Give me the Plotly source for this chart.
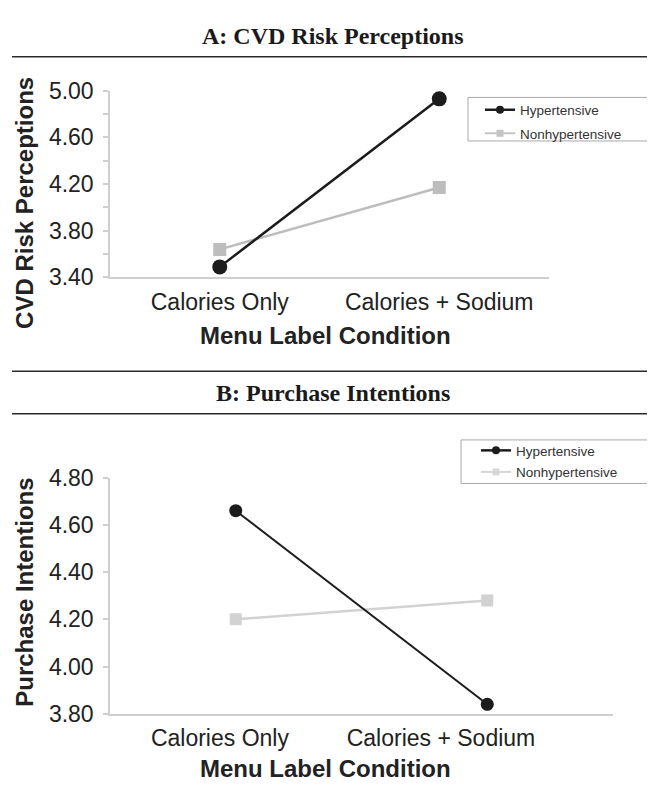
import plotly.graph_objects as go

# ---------------- data ----------------
categories = ["Calories Only", "Calories + Sodium"]
series_names = ["Hypertensive", "Nonhypertensive"]

risk_hyper = [3.49, 4.93]
risk_nonhyper = [3.64, 4.17]

purchase_hyper = [4.66, 3.84]
purchase_nonhyper = [4.20, 4.28]

risk_tick_vals = [3.40, 3.80, 4.20, 4.60, 5.00]
purchase_tick_vals = [3.80, 4.00, 4.20, 4.40, 4.60, 4.80]

# ---------------- layout helpers ----------------
W, H = 655, 808
OFF = 8  # default page margin around the plot div
FW, FH = W - OFF, H - OFF


def px(x):
    return (x - OFF) / FW


def py(y):
    return 1 - (y - OFF) / FH


SANS = "Liberation Sans, Arial, Helvetica, sans-serif"
SERIF = "Liberation Serif, Times New Roman, serif"
TXT = "#222222"
AXIS_GRAY = "#cfcfcf"
BLACK = "#1c1c1c"
GRAY_A = "#bdbdbd"
GRAY_B = "#d2d2d2"

# panel B's tick labels sit left of the points (stretched plot area in original)
b_idx = list(range(len(categories)))
b_label_shift = [-0.063, -0.184]
b_tickvals = [i + s for i, s in zip(b_idx, b_label_shift)]

fig = go.Figure()

# ---- Panel A data ----
fig.add_trace(go.Scatter(
    x=categories, y=risk_nonhyper, mode="lines+markers", name=series_names[1],
    line=dict(color=GRAY_A, width=2.5), marker=dict(symbol="square", size=13, color=GRAY_A),
    xaxis="x", yaxis="y", showlegend=False))
fig.add_trace(go.Scatter(
    x=categories, y=risk_hyper, mode="lines+markers", name=series_names[0],
    line=dict(color=BLACK, width=2.5), marker=dict(symbol="circle", size=15, color=BLACK),
    xaxis="x", yaxis="y", showlegend=False))

# ---- Panel B data ----
fig.add_trace(go.Scatter(
    x=b_idx, y=purchase_nonhyper, mode="lines+markers", name=series_names[1],
    line=dict(color=GRAY_B, width=2.5), marker=dict(symbol="square", size=12, color=GRAY_B),
    xaxis="x2", yaxis="y2", showlegend=False))
fig.add_trace(go.Scatter(
    x=b_idx, y=purchase_hyper, mode="lines+markers", name=series_names[0],
    line=dict(color=BLACK, width=2), marker=dict(symbol="circle", size=13, color=BLACK),
    xaxis="x2", yaxis="y2", showlegend=False))

# ---- legend entries (no data) ----
for leg, xa, ya, grp, gray in [("legend", "x", "y", "a", "#c4c4c4"), ("legend2", "x2", "y2", "b", "#d6d6d6")]:
    fig.add_trace(go.Scatter(
        x=[None], y=[None], mode="lines+markers", name=series_names[0],
        line=dict(color=BLACK, width=2.5), marker=dict(symbol="circle", size=8, color=BLACK),
        xaxis=xa, yaxis=ya, legend=leg, legendgroup=grp + "1"))
    fig.add_trace(go.Scatter(
        x=[None], y=[None], mode="lines+markers", name=series_names[1],
        line=dict(color=gray, width=2), marker=dict(symbol="square", size=7, color=gray),
        xaxis=xa, yaxis=ya, legend=leg, legendgroup=grp + "2"))

axis_common = dict(
    showline=True, linecolor=AXIS_GRAY, linewidth=1.5, showgrid=False, zeroline=False,
    tickfont=dict(family=SANS, size=23, color=TXT),
)

fig.update_layout(
    width=FW, height=FH, autosize=False,
    margin=dict(l=0, r=0, t=0, b=0),
    paper_bgcolor="white", plot_bgcolor="white",
    font=dict(family=SANS, color=TXT),
    xaxis=dict(
        domain=[px(110), px(549)], anchor="y", type="category",
        range=[-0.5, 1.5], ticks="", ticklabelstandoff=3, **axis_common),
    yaxis=dict(
        domain=[py(273), py(80)], anchor="x", range=[3.4, 5.0],
        tickmode="array", tickvals=risk_tick_vals, tickformat=".2f",
        ticks="outside", ticklen=5, tickcolor=AXIS_GRAY, tickwidth=1.5,
        ticklabelstandoff=5,
        minor=dict(dtick=0.2, tick0=3.4, ticks="outside", ticklen=5, tickcolor=AXIS_GRAY, tickwidth=1.5),
        **axis_common),
    xaxis2=dict(
        domain=[px(110), px(613)], anchor="y2", type="linear",
        range=[-0.5, 1.5], tickmode="array", tickvals=b_tickvals, ticktext=categories,
        ticks="", ticklabelstandoff=3, **axis_common),
    yaxis2=dict(
        domain=[py(724), py(480)], anchor="x2", range=[3.8, 4.8],
        tickmode="array", tickvals=purchase_tick_vals, tickformat=".2f",
        ticks="outside", ticklen=5, tickcolor=AXIS_GRAY, tickwidth=1.5,
        ticklabelstandoff=5, **axis_common),
    legend=dict(
        x=px(480), xanchor="left", y=py(84), yanchor="top",
        bgcolor="rgba(0,0,0,0)", borderwidth=0, tracegroupgap=3,
        font=dict(family=SANS, size=13.5, color="#333333")),
    legend2=dict(
        x=px(476), xanchor="left", y=py(436), yanchor="top",
        bgcolor="rgba(0,0,0,0)", borderwidth=0, tracegroupgap=1,
        font=dict(family=SANS, size=13.5, color="#333333")),
)

# ---- rules and legend frames ----
shapes = []
for yy in [45, 370, 414]:
    shapes.append(dict(type="line", xref="paper", yref="paper",
                       x0=px(12), x1=1, y0=py(yy), y1=py(yy),
                       line=dict(color="#2a2a2a", width=1.5)))
shapes.append(dict(type="rect", xref="paper", yref="paper",
                   x0=px(468), x1=px(652), y0=py(132), y1=py(87),
                   line=dict(color="#a8a8a8", width=1)))
shapes.append(dict(type="rect", xref="paper", yref="paper",
                   x0=px(461), x1=px(652), y0=py(486), y1=py(441),
                   line=dict(color="#a8a8a8", width=1)))
fig.update_layout(shapes=shapes)

# ---- titles ----
ann = []
ann.append(dict(text="<b>A: CVD Risk Perceptions</b>", x=px(333), y=py(24),
                xref="paper", yref="paper", showarrow=False, xanchor="center", yanchor="middle",
                font=dict(family=SERIF, size=24, color="#1a1a1a")))
ann.append(dict(text="<b>B: Purchase Intentions</b>", x=px(333), y=py(392),
                xref="paper", yref="paper", showarrow=False, xanchor="center", yanchor="middle",
                font=dict(family=SERIF, size=24, color="#1a1a1a")))
for yy in [333, 781]:
    ann.append(dict(text="<b>Menu Label Condition</b>", x=px(325), y=py(yy),
                    xref="paper", yref="paper", showarrow=False, xanchor="center", yanchor="middle",
                    font=dict(family=SANS, size=24, color=TXT)))
ann.append(dict(text="<b>CVD Risk Perceptions</b>", x=px(25), y=py(196), textangle=-90,
                xref="paper", yref="paper", showarrow=False, xanchor="center", yanchor="middle",
                font=dict(family=SANS, size=24, color=TXT)))
ann.append(dict(text="<b>Purchase Intentions</b>", x=px(25), y=py(599), textangle=-90,
                xref="paper", yref="paper", showarrow=False, xanchor="center", yanchor="middle",
                font=dict(family=SANS, size=24, color=TXT)))
fig.update_layout(annotations=ann)

fig.write_html("out.html")
